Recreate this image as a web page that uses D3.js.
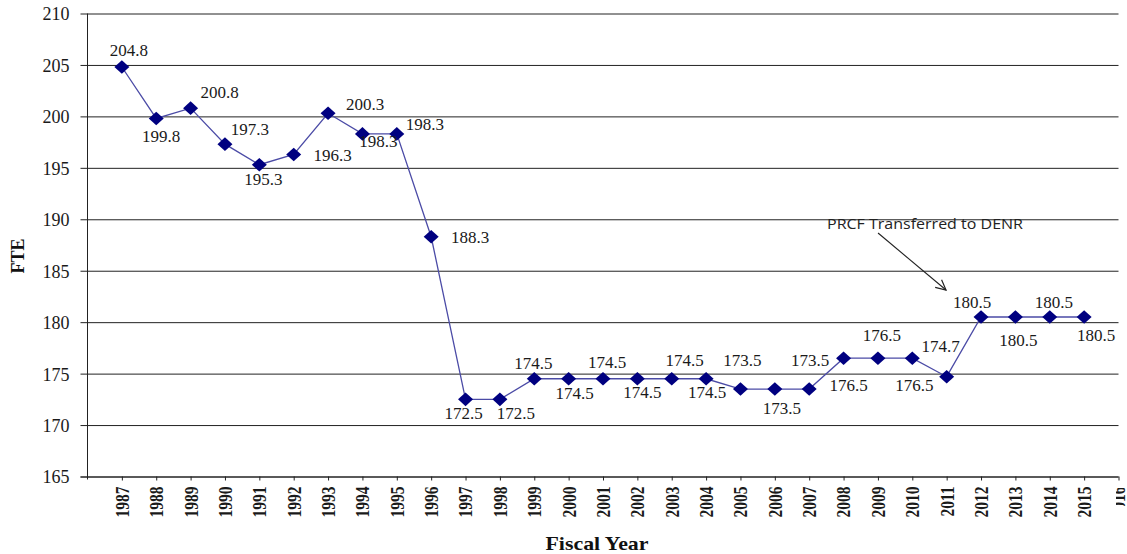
<!DOCTYPE html>
<html>
<head>
<meta charset="utf-8">
<script src="https://cdn.jsdelivr.net/npm/d3@7"></script>
<style>
  html, body { margin: 0; padding: 0; background: #fff; }
  svg { display: block; }
</style>
</head>
<body>
<svg id="chart" width="1127" height="554"></svg>
<script>
// ---- data ----
const years = [1987,1988,1989,1990,1991,1992,1993,1994,1995,1996,1997,1998,1999,2000,2001,2002,2003,2004,2005,2006,2007,2008,2009,2010,2011,2012,2013,2014,2015];
const fte = [204.8,199.8,200.8,197.3,195.3,196.3,200.3,198.3,198.3,188.3,172.5,172.5,174.5,174.5,174.5,174.5,174.5,174.5,173.5,173.5,173.5,176.5,176.5,176.5,174.7,180.5,180.5,180.5,180.5];
const xTickYears = [1987,1988,1989,1990,1991,1992,1993,1994,1995,1996,1997,1998,1999,2000,2001,2002,2003,2004,2005,2006,2007,2008,2009,2010,2011,2012,2013,2014,2015,2016];
const yTicks = [165,170,175,180,185,190,195,200,205,210];
const yAxisTitle = "FTE";
const xAxisTitle = "Fiscal Year";
const annotationText = "PRCF Transferred to DENR";
const annotationYear = 2012;

// ---- layout (label offsets relative to each point: [dx, baseline dy]) ----
const labelOffsets = [[7,-11],[5,24],[29,-10],[25,-9],[4,20],[39,7],[37,-3],[16,13],[28,-4],[39,6],
  [-2,20],[16,20],[-1,-10],[6,20],[4,-11],[5,19],[13,-13],[1,19],[2,-23],[7,25],[1,-23],
  [5,33],[4,-17],[2,33],[-6,-25],[-9,-9],[3,29],[4,-9],[12,24]];

const svg = d3.select("#chart");
const plotL = 87.5, plotR = 1118.5, plotT = 13.5, plotB = 476.5;
const serif = "'Liberation Serif', 'Times New Roman', serif";

const x = d3.scaleLinear().domain([1986, 2016]).range([plotL, plotR]);
const y = d3.scaleLinear().domain([165, 210]).range([plotB, plotT]);

// gridlines + y axis
const yAxis = d3.axisLeft(y).tickValues(yTicks).tickSize(7).tickFormat(d3.format("d"));
const gy = svg.append("g").attr("transform", `translate(${plotL},0)`).call(yAxis);
gy.select(".domain").remove();
gy.selectAll(".tick line").attr("x1", -7).attr("x2", plotR - plotL).attr("stroke", "#222").attr("stroke-width", 1);
gy.selectAll(".tick text")
  .attr("x", -18)
  .attr("dy", "0.36em")
  .attr("fill", "#1a1a1a")
  .style("font-family", serif)
  .style("font-size", "18px");

// vertical axis line
svg.append("line").attr("x1", plotL).attr("x2", plotL).attr("y1", plotT).attr("y2", plotB + 3)
  .attr("stroke", "#222").attr("stroke-width", 1);

// x axis
const xAxis = d3.axisBottom(x).tickValues(xTickYears).tickSize(4).tickFormat(d3.format("d"));
const gx = svg.append("g").attr("transform", `translate(0,${plotB})`).call(xAxis);
gx.select(".domain").attr("d", `M${plotL - 7},0.5H${plotR}`).attr("stroke", "#222");
gx.selectAll(".tick line").attr("stroke", "#222");
gx.selectAll(".tick text")
  .attr("transform", "rotate(-90) scale(1,1.18)")
  .attr("x", -10)
  .attr("y", 0)
  .attr("dy", "0.35em")
  .attr("text-anchor", "end")
  .attr("fill", "#1a1a1a")
  .style("font-family", serif)
  .style("font-size", "15.5px")
  .style("font-weight", "bold");

// the last tick label is cut off in the original: clip it
svg.append("clipPath").attr("id", "lastClip").append("rect")
  .attr("x", 1116).attr("y", 488).attr("width", 20).attr("height", 18);
gx.selectAll(".tick").filter(d => d === 2016).select("text").remove();
svg.append("g").attr("clip-path", "url(#lastClip)")
  .append("text")
  .attr("transform", `translate(${x(2016)},${plotB}) rotate(-90) scale(1,1.18)`)
  .attr("x", -10).attr("dy", "0.35em").attr("text-anchor", "end")
  .attr("fill", "#1a1a1a")
  .style("font-family", serif)
  .style("font-size", "15.5px").style("font-weight", "bold")
  .text("2016");

// line
const data = years.map((yr, i) => ({ yr, v: fte[i], off: labelOffsets[i] }));
svg.append("path").datum(data)
  .attr("d", d3.line().x(d => x(d.yr)).y(d => y(d.v)))
  .attr("fill", "none").attr("stroke", "#4b4ba6").attr("stroke-width", 1.3);

// markers (diamonds)
svg.append("g").selectAll("path").data(data).join("path")
  .attr("transform", d => `translate(${x(d.yr)},${y(d.v)})`)
  .attr("d", "M0,-6.8L7.5,0L0,6.8L-7.5,0Z")
  .attr("fill", "#000080");

// data labels
svg.append("g").selectAll("text").data(data).join("text")
  .attr("x", d => x(d.yr) + d.off[0])
  .attr("y", d => y(d.v) + d.off[1])
  .attr("text-anchor", "middle")
  .attr("fill", "#1a1a1a")
  .style("font-family", serif)
  .style("font-size", "17px")
  .text(d => d.v.toFixed(1));

// axis titles
svg.append("text")
  .attr("transform", `translate(24,${(plotT + plotB) / 2 + 11}) rotate(-90)`)
  .attr("text-anchor", "middle")
  .attr("fill", "#111")
  .style("font-family", serif)
  .style("font-size", "18px").style("font-weight", "bold")
  .text(yAxisTitle);

svg.append("text")
  .attr("x", 597).attr("y", 550)
  .attr("text-anchor", "middle")
  .attr("textLength", 103).attr("lengthAdjust", "spacingAndGlyphs")
  .attr("fill", "#111")
  .style("font-family", serif)
  .style("font-size", "19px").style("font-weight", "bold")
  .text(xAxisTitle);

// annotation with arrow
const defs = svg.append("defs");
defs.append("marker").attr("id", "arrowHead")
  .attr("viewBox", "0 0 12 12").attr("refX", 11).attr("refY", 6)
  .attr("markerWidth", 12).attr("markerHeight", 12).attr("markerUnits", "userSpaceOnUse")
  .attr("orient", "auto")
  .append("path").attr("d", "M1,1L11,6L1,11").attr("fill", "none").attr("stroke", "#222").attr("stroke-width", 1.2);

const ax = x(annotationYear), ay = y(fte[years.indexOf(annotationYear)]);
svg.append("line")
  .attr("x1", ax - 103).attr("y1", ay - 84)
  .attr("x2", ax - 35).attr("y2", ay - 27)
  .attr("stroke", "#222").attr("stroke-width", 1.1)
  .attr("marker-end", "url(#arrowHead)");

svg.append("text")
  .attr("x", 827).attr("y", 228.5)
  .attr("textLength", 196).attr("lengthAdjust", "spacingAndGlyphs")
  .attr("fill", "#222")
  .style("font-family", "'Open Sans', 'Liberation Sans', sans-serif")
  .style("font-size", "14px")
  .text(annotationText);
</script>
</body>
</html>
